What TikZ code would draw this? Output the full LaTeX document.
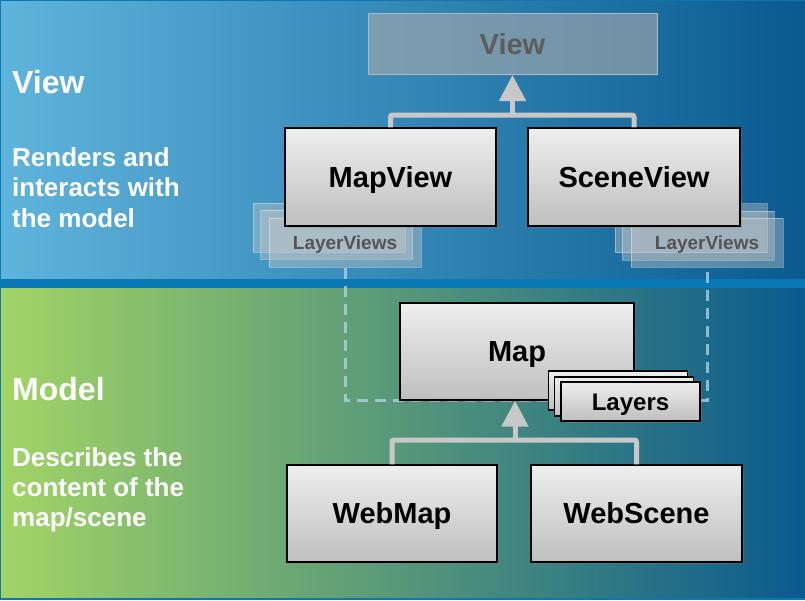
\documentclass[tikz,border=0pt]{standalone}
\usepackage{fontspec}
\setmainfont{Liberation Sans}
\usetikzlibrary{arrows.meta,shadows}
\definecolor{bandc}{HTML}{0A78B4}
\definecolor{topL}{HTML}{5FB4DC}
\definecolor{topM}{HTML}{3088C0}
\definecolor{topR}{HTML}{0A5A90}
\definecolor{botL}{HTML}{A2D466}
\definecolor{botM}{HTML}{48A08A}
\definecolor{botR}{HTML}{0A5A8E}
\definecolor{boxT}{HTML}{EEEEEE}
\definecolor{boxB}{HTML}{BFBFBF}
\definecolor{connc}{HTML}{C8C8C8}
\definecolor{dashc}{HTML}{B4D6E6}
\definecolor{lvfill}{HTML}{C8C8C8}
\definecolor{lvtext}{HTML}{4A4A4A}
\definecolor{viewtext}{HTML}{5C5C5C}
\definecolor{viewfill}{HTML}{B4B4B4}
\definecolor{viewdraw}{HTML}{A8BCC8}
\newcommand\mysz[1]{\fontsize{#1}{#1}\selectfont\bfseries}
\begin{document}
\begin{tikzpicture}[x=1pt,y=-1pt,
  box/.style={draw=black, line width=1.3pt, top color=boxT, bottom color=boxB,
    inner sep=0pt, font=\mysz{29}, text=black, text height=20.8pt, text depth=0pt,
    drop shadow={shadow xshift=1.5pt,shadow yshift=-2pt,opacity=0.35}},
  lbox/.style={box, minimum width=139pt, minimum height=39pt, font=\mysz{24}, text height=17.2pt},
  lv/.style={draw=white, draw opacity=0.35, fill=lvfill, fill opacity=0.4,
    line width=1pt, inner sep=0pt, minimum width=152pt, minimum height=49pt,
    text=lvtext, text opacity=0.9, font=\mysz{19}, text height=13.6pt, text depth=0pt},
  conn/.style={draw=connc, line width=5pt, rounded corners=2pt},
  arr/.style={draw=connc, line width=5pt, -{Triangle[width=26pt,length=26pt]}},
  dashln/.style={draw=dashc, draw opacity=0.75, line width=3pt, dash pattern=on 11pt off 7pt},
  headtext/.style={anchor=base west, inner sep=0pt, text=white, font=\mysz{32}},
  desctext/.style={anchor=base west, inner sep=0pt, text=white, font=\mysz{26}}
]
\useasboundingbox (0,0) rectangle (805,600);
% background
\fill[bandc] (0,0) rectangle (805,600);
\shade[left color=topL, middle color=topM, right color=topR] (1,1) rectangle (805,278);
\shade[left color=botL, middle color=botM, right color=botR] (1,288) rectangle (805,597);

% View box
\node[draw=viewdraw, line width=1pt, fill=viewfill, fill opacity=0.5, text opacity=1,
  text=viewtext, font=\mysz{29}, text height=20.8pt, text depth=0pt, inner sep=0pt,
  minimum width=289pt, minimum height=61pt,
  drop shadow={shadow xshift=1pt,shadow yshift=-1.5pt,opacity=0.2}]
  (view) at (512.5,44) {View};

% LayerViews stacks
\node[lv] (lvl1) at (329,227.5) {};
\node[lv] (lvl2) at (336.5,234.5) {};
\node[lv] (lvl) at (345,242.5) {LayerViews};
\node[lv] (lvr1) at (691,228) {};
\node[lv] (lvr2) at (698,235.5) {};
\node[lv] (lvr) at (707,242.5) {LayerViews};

% dashed link
\draw[dashln] (lvl.south) -- (lvl.south |- 0,400) -- (lvr.south |- 0,400) -- (lvr.south);

% view boxes
\node[box, minimum width=211pt, minimum height=98pt] (mapview) at (390.5,177) {MapView};
\node[box, minimum width=212pt, minimum height=98pt] (sceneview) at (634,177) {SceneView};
\coordinate (tj) at (view.south |- 0,115);
\draw[conn] (mapview.north) |- (tj) -| (sceneview.north);
\draw[arr] (tj) -- (view.south);

% model boxes
\node[box, minimum width=234pt, minimum height=97pt] (map) at (517,351.5) {Map};
\node[lbox] (lay1) at (618,390.5) {};
\node[lbox] (lay2) at (624,396.5) {};
\node[lbox] (layers) at (630.5,401.5) {Layers};

\node[box, minimum width=210pt, minimum height=97pt] (webmap) at (392,513.5) {WebMap};
\node[box, minimum width=211pt, minimum height=97pt] (webscene) at (636.5,513.5) {WebScene};
\coordinate (bj) at (515,440);
\draw[conn] (webmap.north) |- (bj) -| (webscene.north);
\draw[arr] (bj) -- (bj |- map.south);

% left texts
\node[headtext] (vtitle) at (12,93) {View};
\node[desctext] (vd1) at (12,166) {Renders and};
\node[desctext] (vd2) at (12,196) {interacts with};
\node[desctext] (vd3) at (12,227) {the model};
\node[headtext] (mtitle) at (12,400) {Model};
\node[desctext] (md1) at (12,466.5) {Describes the};
\node[desctext] (md2) at (12,496.5) {content of the};
\node[desctext] (md3) at (12,526.5) {map/scene};
\end{tikzpicture}
\end{document}
